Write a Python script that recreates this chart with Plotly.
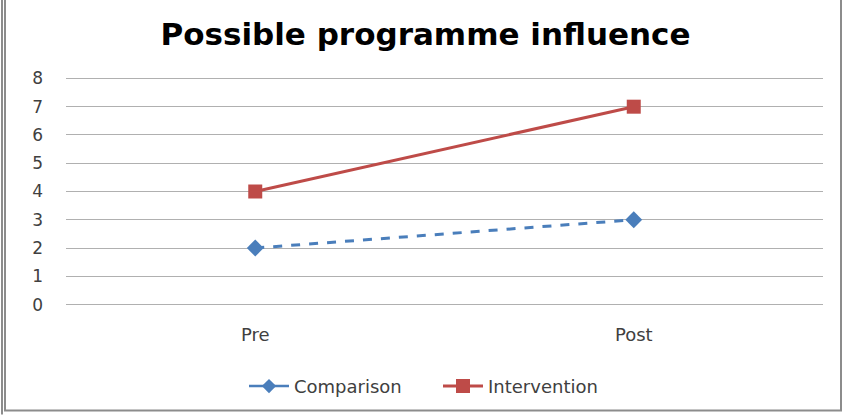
import plotly.graph_objects as go

categories = ["Pre", "Post"]
comparison = [2, 3]
intervention = [4, 7]
y_ticks = [0, 1, 2, 3, 4, 5, 6, 7, 8]

BLUE = "#4A7EBB"
RED = "#BE4B48"

fig = go.Figure()
fig.add_trace(go.Scatter(
    x=categories, y=comparison, name="Comparison", mode="lines+markers",
    line=dict(color=BLUE, width=3, dash="dash"),
    marker=dict(symbol="diamond", size=13, color=BLUE),
    showlegend=False, legendgroup="c",
))
fig.add_trace(go.Scatter(
    x=[None], y=[None], name="Comparison", mode="lines+markers",
    line=dict(color=BLUE, width=2.5),
    marker=dict(symbol="diamond", size=11, color=BLUE),
    legendgroup="c",
))
fig.add_trace(go.Scatter(
    x=categories, y=intervention, name="Intervention", mode="lines+markers",
    line=dict(color=RED, width=3),
    marker=dict(symbol="square", size=14, color=RED),
))

fig.update_layout(
    width=847, height=416,
    margin=dict(l=66, r=24, t=77, b=109),
    paper_bgcolor="white", plot_bgcolor="white",
    title=dict(text="<b>Possible programme influence</b>", x=425.5/847, xref="container",
               y=0.917, yref="container", xanchor="center", yanchor="middle",
               font=dict(family="DejaVu Sans", size=31, color="black")),
    font=dict(family="DejaVu Sans", size=17, color="#404040"),
    showlegend=True,
    legend=dict(orientation="h", x=(244-66)/757, xanchor="left", y=-0.345, yanchor="middle",
                font=dict(family="DejaVu Sans", size=18, color="#404040"),
                itemwidth=40, tracegroupgap=0, entrywidth=139, entrywidthmode="pixels"),
    xaxis=dict(type="category", range=[-0.5, 1.5], showgrid=False, showline=False,
               zeroline=False, ticks="", ticklabelstandoff=16,
               tickfont=dict(family="DejaVu Sans", size=18, color="#404040")),
    yaxis=dict(range=[-0.05, 8.05], tickvals=y_ticks, showgrid=True, gridcolor="#B0B0B0",
               gridwidth=1, zeroline=False, showline=False, ticks="",
               ticklabelstandoff=22,
               tickfont=dict(family="DejaVu Sans", size=17, color="#404040")),
    shapes=[
        dict(type="rect", xref="paper", yref="paper",
             x0=-61/757, x1=1 + 18/757, y0=-105/230, y1=1 + 80/230,
             line=dict(color="#8C8C8C", width=2)),
        dict(type="line", xref="paper", yref="paper",
             x0=-64/757, x1=-64/757, y0=-109/230, y1=1 + 78/230,
             line=dict(color="#8C8C8C", width=2)),
    ],
)

fig.write_html("out.html")
